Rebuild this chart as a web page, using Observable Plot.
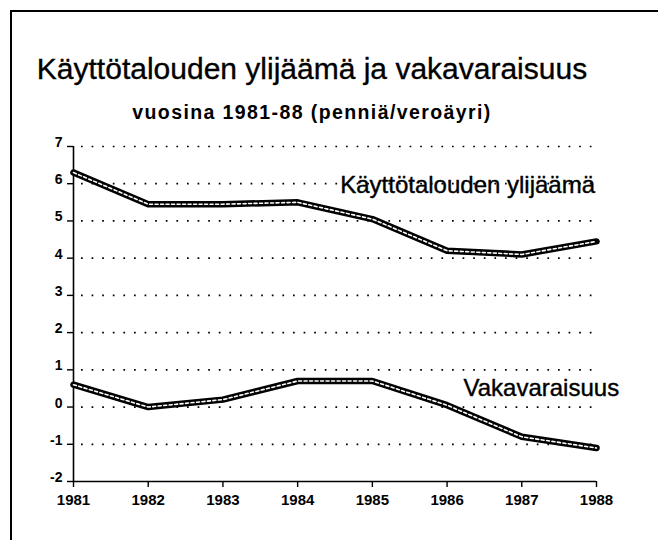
<!DOCTYPE html>
<html><head><meta charset="utf-8">
<script src="https://cdn.jsdelivr.net/npm/d3@7"></script>
<script src="https://cdn.jsdelivr.net/npm/@observablehq/plot@0.6"></script>
<style>
html,body{margin:0;padding:0;background:#fff;}
#wrap{position:relative;width:658px;height:540px;overflow:hidden;font-family:"Liberation Sans",Arial,sans-serif;color:#000;}
#frame{position:absolute;left:10px;top:10px;width:700px;height:600px;border-left:2px solid #000;border-top:2px solid #000;}
#title{position:absolute;left:0;width:624px;text-align:center;top:54px;font-size:30px;line-height:30px;white-space:nowrap;-webkit-text-stroke:0.35px #000;}
#subtitle{position:absolute;left:0;width:624px;text-align:center;top:103px;font-size:19.5px;line-height:19.5px;font-weight:bold;letter-spacing:1.4px;white-space:nowrap;}
#chart{position:absolute;left:0;top:0;}
</style>
</head><body>
<div id="wrap">
  <div id="chart"></div>
  <div id="frame"></div>
  <div id="title">Käyttötalouden ylijäämä ja vakavaraisuus</div>
  <div id="subtitle">vuosina 1981-88 (penniä/veroäyri)</div>
</div>
<script>
const years = [1981, 1982, 1983, 1984, 1985, 1986, 1987, 1988];
const seriesNames = ["Käyttötalouden ylijäämä", "Vakavaraisuus"];
const ylijaama = [6.3, 5.45, 5.45, 5.5, 5.05, 4.2, 4.1, 4.45];
const vakavaraisuus = [0.6, 0.0, 0.2, 0.7, 0.7, 0.05, -0.8, -1.1];
const yTicks = [-2, -1, 0, 1, 2, 3, 4, 5, 6, 7];
const gridValues = [-1, 0, 1, 2, 3, 4, 5, 6, 7];
// label anchors in data units (x = year, y = value at text baseline)
const labelX = [1984.57, 1986.22];
const labelY = [5.74, 0.31];

const data = [];
years.forEach((yr, i) => {
  data.push({series: seriesNames[0], year: yr, value: ylijaama[i]});
  data.push({series: seriesNames[1], year: yr, value: vakavaraisuus[i]});
});
const labels = seriesNames.map((s, i) => ({text: s, x: labelX[i], y: labelY[i]}));

const chart = Plot.plot({
  width: 658,
  height: 540,
  marginLeft: 73,
  marginRight: 62,
  marginTop: 146,
  marginBottom: 59,
  style: {fontFamily: "'Liberation Sans', Arial, sans-serif", fontSize: "14px", fontWeight: "bold", color: "#000", background: "transparent"},
  x: {domain: [years[0], years[years.length - 1]]},
  y: {domain: [yTicks[0], yTicks[yTicks.length - 1]]},
  marks: [
    Plot.ruleY(gridValues, {stroke: "#000", strokeWidth: 1.7, strokeDasharray: "1.7,8.9", strokeDashoffset: -8}),
    Plot.ruleX([years[0]], {stroke: "#000", strokeWidth: 1.6}),
    Plot.ruleY([yTicks[0]], {stroke: "#000", strokeWidth: 1.6}),
    Plot.axisY({ticks: yTicks, tickSize: 6, text: null, stroke: "#000", strokeWidth: 1.4}),
    Plot.axisY({ticks: yTicks, tickSize: 0, tickPadding: 11, dy: -4, tickFormat: d => String(d), fontSize: 14, fontWeight: "bold"}),
    Plot.axisX({ticks: years, tickSize: 6, tickPadding: 7, tickFormat: d => String(d), fontSize: 15, fontWeight: "bold", stroke: "#000", strokeWidth: 1.4}),
    Plot.line(data, {x: "year", y: "value", z: "series", stroke: "#000", strokeWidth: 6.5, strokeLinejoin: "round"}),
    Plot.line(data, {x: "year", y: "value", z: "series", stroke: "#fff", strokeWidth: 1.6, strokeDasharray: "3,2.5"}),
    Plot.text(labels, {x: "x", y: "y", text: "text", textAnchor: "start", lineAnchor: "bottom", fontSize: 24, fontWeight: "normal", fill: "#000", stroke: "#000", strokeWidth: 0.4})
  ]
});
document.getElementById("chart").appendChild(chart);
</script>
</body></html>
